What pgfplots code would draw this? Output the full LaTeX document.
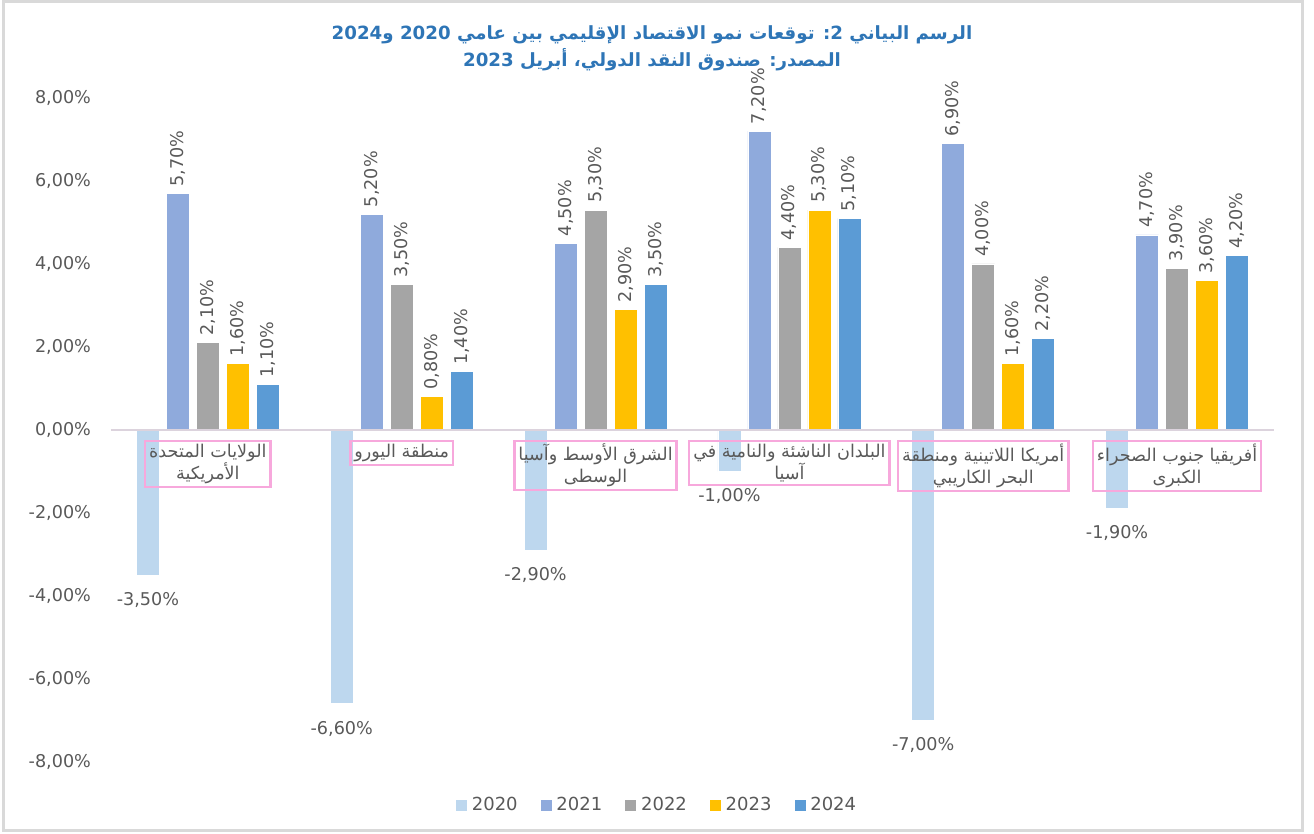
\documentclass[border=0pt]{standalone}
\usepackage{pgfplots}
\pgfplotsset{compat=1.18}
\usepackage{fontspec}
\setmainfont{DejaVu Sans}
\newfontfamily\arabicfont[Script=Arabic]{DejaVu Sans}
\TeXXeTstate=1
\definecolor{c2020}{HTML}{BDD7EE}
\definecolor{c2021}{HTML}{8FAADC}
\definecolor{c2022}{HTML}{A5A5A5}
\definecolor{c2023}{HTML}{FFC000}
\definecolor{c2024}{HTML}{5B9BD5}
\definecolor{titleblue}{HTML}{2E75B6}
\definecolor{textgray}{HTML}{595959}
\definecolor{zeroline}{HTML}{DCD3DD}
\definecolor{pinkbox}{HTML}{F7A8DC}
\definecolor{framegray}{HTML}{D9D9D9}

\pgfplotstableread{
x y2020 y2021 y2022 y2023 y2024
0 -3.5 5.7 2.1 1.6 1.1
1 -6.6 5.2 3.5 0.8 1.4
2 -2.9 4.5 5.3 2.9 3.5
3 -1.0 7.2 4.4 5.3 5.1
4 -7.0 6.9 4.0 1.6 2.2
5 -1.9 4.7 3.9 3.6 4.2
}\growth

\begin{document}
\begin{tikzpicture}
\useasboundingbox (-55.5pt,-36pt) rectangle (601.5pt,381pt);
\draw[framegray, line width=1.5pt] (-53.5pt,-34.5pt) rectangle (595.5pt,380pt);
\begin{axis}[
  at={(0pt,0pt)}, anchor=south west,
  scale only axis, width=581.5pt, height=332pt,
  clip=false, axis on top,
  ybar=3.5pt, bar width=11.5pt,
  xmin=-0.5, xmax=5.5, ymin=-8, ymax=8,
  axis x line=middle, axis y line=left,
  x axis line style={draw=zeroline, line width=0.9pt, -},
  y axis line style={draw=none},
  major tick length=0pt,
  xtick={0,...,5},
  xticklabels={
    {\beginR الولايات المتحدة\endR\\\beginR الأمريكية\endR},
    {\beginR منطقة اليورو\endR},
    {\beginR الشرق الأوسط وآسيا\endR\\\beginR الوسطى\endR},
    {\beginR البلدان الناشئة والنامية في\endR\\\beginR آسيا\endR},
    {\beginR أمريكا اللاتينية ومنطقة\endR\\\beginR البحر الكاريبي\endR},
    {\beginR أفريقيا جنوب الصحراء\endR\\\beginR الكبرى\endR}
  },
  xticklabel style={draw=pinkbox, line width=1.2pt, text=textgray,
    font=\arabicfont\fontsize{8.8}{11}\selectfont, align=center,
    anchor=north, inner xsep=2pt, inner ysep=1.5pt, yshift=-5pt},
  ytick={-8,-6,...,8},
  /pgf/number format/assume math mode=true,
  yticklabel={\pgfmathprintnumber[fixed,fixed zerofill,precision=2,use comma]{\tick}\%},
  yticklabel style={text=textgray, font=\fontsize{8.8}{10}\selectfont, xshift=-6.5pt},
  nodes near coords={\pgfmathprintnumber[fixed,fixed zerofill,precision=2,use comma]{\pgfplotspointmeta}\%},
  every node near coord/.append style={text=textgray, font=\fontsize{8.8}{10}\selectfont},
  legend style={at={(0.470,-0.065)}, anchor=center, draw=none, fill=none,
    legend columns=-1, font=\fontsize{9}{10}\selectfont, text=textgray,
    /tikz/every even column/.append style={column sep=9pt}},
  legend image code/.code={\fill[#1] (0pt,-3pt) rectangle (6pt,3pt);},
]
\addplot[fill=c2020, draw=white, line width=0.4pt,
  every node near coord/.append style={anchor=north, yshift=-5pt}] table[x=x,y=y2020]{\growth};
\addplot[fill=c2021, draw=white, line width=0.4pt,
  every node near coord/.append style={rotate=90, anchor=west}] table[x=x,y=y2021]{\growth};
\addplot[fill=c2022, draw=white, line width=0.4pt,
  every node near coord/.append style={rotate=90, anchor=west}] table[x=x,y=y2022]{\growth};
\addplot[fill=c2023, draw=white, line width=0.4pt,
  every node near coord/.append style={rotate=90, anchor=west}] table[x=x,y=y2023]{\growth};
\addplot[fill=c2024, draw=white, line width=0.4pt,
  every node near coord/.append style={rotate=90, anchor=west}] table[x=x,y=y2024]{\growth};
\legend{2020,2021,2022,2023,2024}
\end{axis}
\node[text=titleblue, font=\arabicfont\bfseries\fontsize{9.1}{11}\selectfont] at (270.5pt,363.5pt)
  {\beginR الرسم البياني 2: توقعات نمو الاقتصاد الإقليمي بين عامي 2020 و2024\endR};
\node[text=titleblue, font=\arabicfont\bfseries\fontsize{9.1}{11}\selectfont] at (270.5pt,351pt)
  {\beginR المصدر: صندوق النقد الدولي، أبريل 2023\endR};
\end{tikzpicture}
\end{document}
